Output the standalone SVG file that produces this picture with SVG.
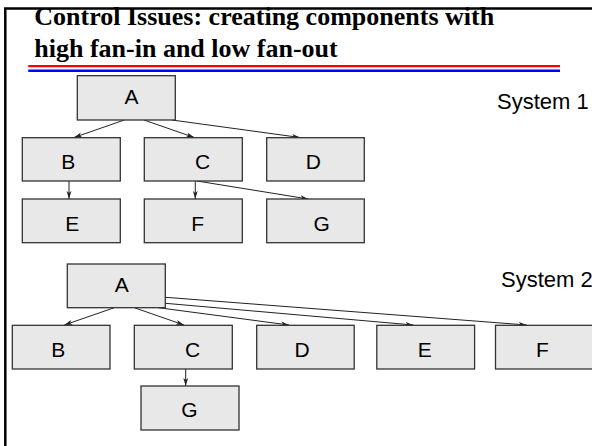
<svg xmlns="http://www.w3.org/2000/svg" width="592" height="446" viewBox="0 0 592 446">
  <style>
    .title { font-family: "Liberation Serif", "Times New Roman", serif; font-weight: bold; font-size: 26px; fill: #000; }
    .box { fill: #e8e8e8; stroke: #333; stroke-width: 1.3; }
    .lbl { font-family: "Liberation Sans", Arial, sans-serif; font-size: 21px; fill: #000; text-anchor: middle; }
    .sys { font-family: "Liberation Sans", Arial, sans-serif; font-size: 22px; fill: #000; }
    .edge { fill: none; stroke: #222; stroke-width: 1; marker-end: url(#arrow); }
  </style>
  <defs>
    <marker id="arrow" viewBox="0 0 8 6" refX="8" refY="3" markerWidth="8" markerHeight="6" markerUnits="userSpaceOnUse" orient="auto">
      <path d="M0,0.6 L8,3 L0,5.4 L2,3 Z" fill="#222"/>
    </marker>
  </defs>
  <rect width="592" height="446" fill="#fff"/>

  <!-- heading -->
  <text class="title" x="34.3" y="25">Control Issues: creating components with</text>
  <text class="title" x="34.3" y="57">high fan-in and low fan-out</text>
  <line x1="28.3" y1="66.2" x2="560" y2="66.2" stroke="#ff0000" stroke-width="2.3"/>
  <line x1="28.3" y1="70.7" x2="560" y2="70.7" stroke="#0000ff" stroke-width="2.5"/>

  <!-- slide frame -->
  <path d="M5.3,450 V8.5 H600" fill="none" stroke="#000" stroke-width="2.5"/>

  <!-- System 1 -->
  <text class="sys" x="497" y="109.3">System 1</text>
  <g id="connectors-1">
    <line class="edge" x1="124.3" y1="120" x2="74" y2="137.5"/>
    <line class="edge" x1="144" y1="120" x2="194.3" y2="137.5"/>
    <line class="edge" x1="172" y1="120" x2="300" y2="137.5"/>
    <line class="edge" x1="69" y1="181" x2="69" y2="199"/>
    <line class="edge" x1="195.3" y1="181" x2="195.3" y2="199"/>
    <line class="edge" x1="197" y1="181" x2="308.3" y2="199"/>
  </g>
  <g id="s1-A"><rect class="box" x="77.3" y="75.7" width="98" height="44.3"/><text class="lbl" x="131.5" y="104">A</text></g>
  <g id="s1-B"><rect class="box" x="22.3" y="137.7" width="98" height="43.3"/><text class="lbl" x="68.3" y="169">B</text></g>
  <g id="s1-C"><rect class="box" x="144.3" y="137.7" width="98" height="43.3"/><text class="lbl" x="202.7" y="169">C</text></g>
  <g id="s1-D"><rect class="box" x="266.7" y="137.7" width="97.6" height="43.3"/><text class="lbl" x="313.3" y="169">D</text></g>
  <g id="s1-E"><rect class="box" x="22.3" y="199" width="98" height="43.7"/><text class="lbl" x="72.3" y="231">E</text></g>
  <g id="s1-F"><rect class="box" x="144.3" y="199" width="98" height="43.7"/><text class="lbl" x="197.7" y="231">F</text></g>
  <g id="s1-G"><rect class="box" x="266.7" y="199" width="97.6" height="43.7"/><text class="lbl" x="321.7" y="231">G</text></g>

  <!-- System 2 -->
  <text class="sys" x="501" y="286.7">System 2</text>
  <g id="connectors-2">
    <line class="edge" x1="114.3" y1="307.7" x2="64.3" y2="325"/>
    <line class="edge" x1="134.3" y1="307.7" x2="184" y2="325"/>
    <line class="edge" x1="158.3" y1="307.7" x2="289" y2="325"/>
    <line class="edge" x1="165.4" y1="303.3" x2="413.4" y2="325"/>
    <line class="edge" x1="165.4" y1="297.3" x2="526.7" y2="325"/>
    <line class="edge" x1="185.7" y1="369" x2="185.7" y2="386"/>
  </g>
  <g id="s2-A"><rect class="box" x="67.3" y="264" width="98" height="43.7"/><text class="lbl" x="121.7" y="292">A</text></g>
  <g id="s2-B"><rect class="box" x="12.3" y="325.3" width="97.7" height="43.7"/><text class="lbl" x="58.3" y="357">B</text></g>
  <g id="s2-C"><rect class="box" x="134.3" y="325.3" width="98" height="43.7"/><text class="lbl" x="192.7" y="357">C</text></g>
  <g id="s2-D"><rect class="box" x="256.7" y="325.3" width="97.5" height="43.7"/><text class="lbl" x="302" y="357">D</text></g>
  <g id="s2-E"><rect class="box" x="376.8" y="325.3" width="97.8" height="43.7"/><text class="lbl" x="424.8" y="357">E</text></g>
  <g id="s2-F"><rect class="box" x="495.5" y="325.3" width="98" height="43.7"/><text class="lbl" x="542.5" y="357">F</text></g>
  <g id="s2-G"><rect class="box" x="141" y="386" width="98" height="44"/><text class="lbl" x="189.3" y="417">G</text></g>
</svg>
